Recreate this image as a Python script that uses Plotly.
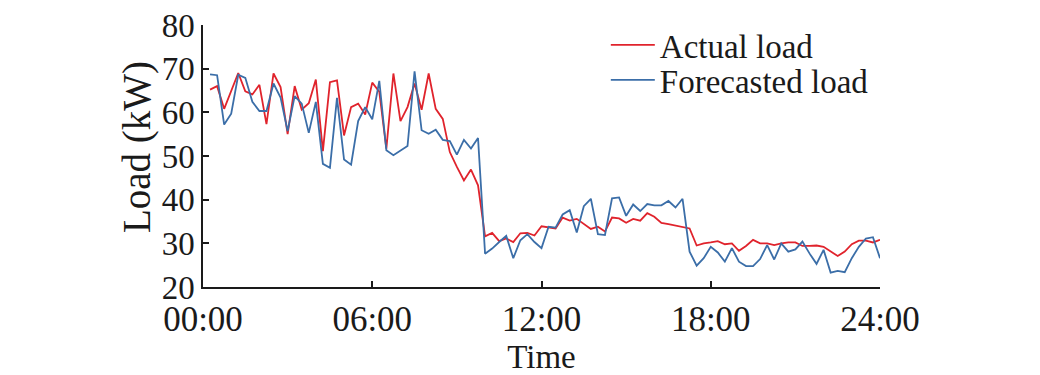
import plotly.graph_objects as go
import pandas as pd

# 15-minute timestamps from 00:15 to 24:00
times = pd.date_range("2000-01-01 00:15", periods=96, freq="15min")

actual_load = [
    65.2, 66.0, 60.8, 64.9, 69.0, 64.8, 64.1, 66.3, 57.3, 68.9, 65.8, 55.0,
    66.0, 60.6, 62.1, 67.5, 51.1, 66.9, 67.3, 54.7, 61.2, 62.0, 59.5, 66.8,
    64.7, 51.7, 68.9, 58.0, 61.2, 66.6, 60.6, 68.9, 60.8, 58.5, 50.9, 47.5,
    44.4, 46.9, 43.3, 31.6, 32.4, 30.5, 31.1, 30.3, 32.3, 32.4, 31.8, 33.9,
    33.7, 33.4, 35.9, 35.2, 35.6, 34.4, 33.3, 33.8, 32.7, 35.9, 35.7, 34.7,
    35.6, 35.2, 36.9, 36.1, 34.7, 34.4, 34.1, 33.8, 33.4, 29.5, 30.0, 30.2,
    30.5, 29.8, 30.0, 28.3, 29.4, 30.8, 30.0, 30.0, 29.6, 30.0, 30.2, 30.2,
    29.4, 29.4, 29.5, 29.2, 28.1, 27.1, 28.1, 29.8, 30.6, 30.6, 30.2, 30.8,
]

forecast_load = [
    68.7, 68.5, 57.2, 59.7, 68.6, 67.9, 62.4, 60.3, 60.3, 66.6, 63.4, 55.7,
    63.7, 62.0, 55.3, 62.4, 48.2, 47.3, 63.3, 49.2, 48.0, 58.0, 61.2, 58.4,
    67.2, 51.3, 50.2, 51.3, 52.3, 69.4, 55.9, 55.1, 56.0, 53.7, 53.4, 50.3,
    53.7, 51.7, 54.1, 27.6, 28.8, 30.3, 31.7, 26.6, 30.7, 32.1, 30.3, 28.9,
    33.8, 33.6, 36.6, 37.6, 32.5, 38.5, 40.2, 32.1, 31.9, 40.3, 40.5, 36.3,
    38.9, 37.4, 39.0, 38.7, 38.7, 39.7, 38.2, 40.2, 28.1, 24.9, 26.6, 29.2,
    27.9, 25.8, 28.9, 25.8, 24.8, 24.8, 26.4, 29.6, 26.3, 30.0, 28.1, 28.6,
    30.4, 27.7, 25.3, 28.5, 23.3, 23.7, 23.4, 26.6, 29.2, 31.1, 31.4, 26.6,
]

tick_times = ["2000-01-01 00:00", "2000-01-01 06:00", "2000-01-01 12:00",
              "2000-01-01 18:00", "2000-01-02 00:00"]
tick_labels = ["00:00", "06:00", "12:00", "18:00", "24:00"]
y_ticks = [20, 30, 40, 50, 60, 70, 80]

FONT = "Liberation Serif"
INK = "#1a1a1a"

fig = go.Figure()
fig.add_trace(go.Scatter(x=times, y=actual_load, mode="lines", name="Actual load",
                         line=dict(color="#e0232c", width=1.8), legend="legend"))
fig.add_trace(go.Scatter(x=times, y=forecast_load, mode="lines", name="Forecasted load",
                         line=dict(color="#3b6ea8", width=1.8), legend="legend2"))

legend_common = dict(xanchor="left", yanchor="middle", bgcolor="rgba(0,0,0,0)",
                     font=dict(family=FONT, size=33, color=INK), itemwidth=44,
                     borderwidth=0)

fig.update_layout(
    width=1040, height=375,
    margin=dict(l=203, r=160, t=25, b=88, autoexpand=False),
    paper_bgcolor="white", plot_bgcolor="white",
    font=dict(family=FONT, size=33, color=INK),
    showlegend=True,
    legend=dict(x=0.595, y=0.924, **legend_common),
    legend2=dict(x=0.595, y=0.79, **legend_common),
    xaxis=dict(
        range=[tick_times[0], tick_times[-1]],
        tickvals=tick_times, ticktext=tick_labels,
        automargin=False,
        showgrid=False, zeroline=False,
        showline=True, linecolor=INK, linewidth=1.5,
        ticks="inside", ticklen=6, tickwidth=1.5, tickcolor=INK,
        tickfont=dict(size=35),
        title=dict(text="Time", standoff=0, font=dict(size=33)),
    ),
    yaxis=dict(
        range=[20, 80], tickvals=y_ticks,
        automargin=False,
        showgrid=False, zeroline=False,
        showline=True, linecolor=INK, linewidth=1.5,
        ticks="inside", ticklen=6, tickwidth=1.5, tickcolor=INK,
        tickfont=dict(size=33),
    ),
    annotations=[dict(
        text="Load (kW)", textangle=-90, showarrow=False,
        xref="paper", yref="paper", x=-0.062, y=0.534,
        xanchor="right", yanchor="middle",
        font=dict(family=FONT, size=39, color=INK),
    )],
)

fig.write_html("out.html", config={"displayModeBar": False},
               post_script="document.body.style.margin='0px';")
